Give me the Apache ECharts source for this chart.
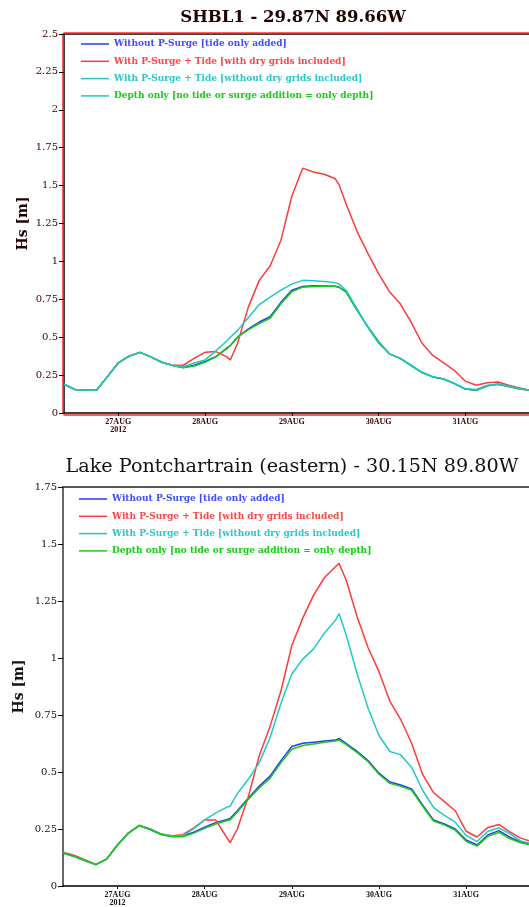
<!DOCTYPE html>
<html>
<head>
<meta charset="utf-8">
<script src="https://cdn.jsdelivr.net/npm/echarts@6/dist/echarts.min.js"></script>
<style>html,body{margin:0;padding:0;background:#fff;overflow:hidden;}#c{width:529px;height:907px;}</style>
</head>
<body>
<div id="c"></div>
<script>
// ---- data ----
const times = [
 '2012-08-26T09:00','2012-08-26T12:00','2012-08-26T15:00','2012-08-26T18:00','2012-08-26T21:00',
 '2012-08-27T00:00','2012-08-27T03:00','2012-08-27T06:00','2012-08-27T09:00','2012-08-27T12:00','2012-08-27T15:00','2012-08-27T18:00','2012-08-27T21:00',
 '2012-08-28T00:00','2012-08-28T03:00','2012-08-28T06:00','2012-08-28T07:00','2012-08-28T09:00','2012-08-28T12:00','2012-08-28T15:00','2012-08-28T18:00','2012-08-28T21:00',
 '2012-08-29T00:00','2012-08-29T03:00','2012-08-29T06:00','2012-08-29T09:00','2012-08-29T12:00','2012-08-29T13:00','2012-08-29T15:00','2012-08-29T18:00','2012-08-29T21:00',
 '2012-08-30T00:00','2012-08-30T03:00','2012-08-30T06:00','2012-08-30T09:00','2012-08-30T12:00','2012-08-30T15:00','2012-08-30T18:00','2012-08-30T21:00',
 '2012-08-31T00:00','2012-08-31T03:00','2012-08-31T06:00','2012-08-31T09:00','2012-08-31T12:00','2012-08-31T15:00','2012-08-31T18:00'
];
const xTickTimes = ['2012-08-27T00:00','2012-08-28T00:00','2012-08-29T00:00','2012-08-30T00:00','2012-08-31T00:00'];
const xTickLabels = ['27AUG\n2012','28AUG','29AUG','30AUG','31AUG'];

const seriesNames = [
 'Without P-Surge [tide only added]',
 'With P-Surge + Tide [with dry grids included]',
 'With P-Surge + Tide [without dry grids included]',
 'Depth only [no tide or surge addition = only depth]'
];

// SHBL1
const topBlue  = [0.19,0.155,0.15,0.15,0.24,0.33,0.375,0.40,0.37,0.335,0.314,0.30,0.315,0.34,0.372,0.425,0.445,0.50,0.555,0.60,0.635,0.73,0.81,0.835,0.84,0.838,0.836,0.83,0.80,0.68,0.57,0.47,0.39,0.36,0.312,0.267,0.238,0.224,0.194,0.158,0.15,0.18,0.19,0.175,0.158,0.15];
const topRed   = [0.19,0.155,0.15,0.15,0.24,0.33,0.375,0.40,0.37,0.335,0.315,0.315,0.36,0.40,0.405,0.37,0.35,0.46,0.70,0.875,0.97,1.14,1.43,1.615,1.59,1.575,1.545,1.51,1.38,1.20,1.055,0.92,0.80,0.72,0.60,0.46,0.38,0.33,0.28,0.21,0.183,0.20,0.205,0.183,0.165,0.15];
const topCyan  = [0.19,0.155,0.15,0.15,0.24,0.33,0.375,0.40,0.37,0.335,0.315,0.305,0.33,0.35,0.41,0.475,0.50,0.545,0.63,0.715,0.765,0.81,0.85,0.875,0.872,0.868,0.86,0.852,0.81,0.69,0.565,0.46,0.39,0.36,0.315,0.27,0.24,0.225,0.195,0.16,0.155,0.182,0.192,0.178,0.16,0.15];
const topGreen = [0.19,0.155,0.15,0.15,0.24,0.33,0.375,0.40,0.37,0.335,0.313,0.298,0.31,0.335,0.37,0.43,0.445,0.50,0.55,0.59,0.625,0.72,0.80,0.83,0.835,0.836,0.836,0.83,0.797,0.68,0.57,0.47,0.39,0.36,0.312,0.267,0.238,0.224,0.194,0.158,0.15,0.18,0.19,0.175,0.158,0.15];

// Lake Pontchartrain (eastern)
const botBlue  = [0.145,0.13,0.112,0.094,0.118,0.18,0.232,0.265,0.248,0.227,0.218,0.219,0.236,0.258,0.278,0.291,0.296,0.33,0.385,0.437,0.482,0.55,0.612,0.626,0.631,0.636,0.64,0.647,0.625,0.59,0.55,0.495,0.456,0.443,0.426,0.356,0.29,0.272,0.25,0.202,0.18,0.224,0.243,0.214,0.193,0.182];
const botRed   = [0.148,0.135,0.115,0.094,0.118,0.18,0.232,0.266,0.25,0.228,0.22,0.225,0.255,0.29,0.29,0.215,0.19,0.25,0.39,0.57,0.70,0.855,1.055,1.175,1.276,1.353,1.40,1.415,1.34,1.18,1.045,0.94,0.81,0.73,0.625,0.49,0.41,0.37,0.33,0.24,0.215,0.257,0.27,0.237,0.21,0.195];
const botCyan  = [0.145,0.13,0.112,0.094,0.118,0.18,0.232,0.265,0.248,0.228,0.219,0.22,0.252,0.29,0.32,0.345,0.35,0.405,0.468,0.54,0.65,0.80,0.93,0.995,1.04,1.11,1.165,1.195,1.10,0.93,0.78,0.66,0.59,0.575,0.52,0.42,0.345,0.31,0.28,0.222,0.195,0.24,0.255,0.23,0.198,0.185];
const botGreen = [0.145,0.13,0.112,0.094,0.118,0.18,0.232,0.265,0.248,0.226,0.216,0.216,0.232,0.253,0.272,0.286,0.29,0.325,0.38,0.43,0.472,0.54,0.60,0.616,0.623,0.63,0.636,0.64,0.62,0.585,0.545,0.49,0.45,0.437,0.42,0.35,0.285,0.268,0.245,0.196,0.175,0.218,0.235,0.208,0.19,0.18];

// ---- build chart ----
// x values are hours since the start of the plotted window (26 Aug 09:00 UTC)
const ts = s => new Date(s + ':00Z').getTime();
const T0 = ts(times[0]);
const hrs = s => (ts(s) - T0) / 3600000;
const hx = times.map(hrs);
const tickH = xTickTimes.map(hrs);
const pairs = arr => arr.map((v, i) => [hx[i], v]);
const fmtX = v => { const i = tickH.findIndex(h => Math.abs(h - v) < 1e-6); return i >= 0 ? xTickLabels[i] : ''; };

const C = {blue:'#2a3af0', red:'#ff3a3a', cyan:'#22c8c8', green:'#14cc14'};
const LC = {blue:'#3d4dff', red:'#ff4444', cyan:'#2ac8c8', green:'#10d010'};
const SERIF = 'DejaVu Serif';
const AXRED = '#ff2a2a';
const redShadowX = {textShadowColor:'rgba(255,30,30,0.85)', textShadowOffsetX:-1, textShadowBlur:0};

function xAxisCfg(gi, maxH, red) {
  return {
    type:'value', gridIndex:gi, min:0, max:maxH, position:'bottom',
    axisLine:{show:true, onZero:false, lineStyle:{color:'#000', width:1.5}},
    axisTick:{show:true, customValues:tickH, length:3, lineStyle:{color:'#000', width:1}},
    axisLabel:Object.assign({customValues:tickH, formatter:fmtX, margin:5, fontFamily:'Liberation Serif',
      fontWeight:'bold', fontSize:8, lineHeight:8, color:red ? '#3a0000' : '#111'}, red ? redShadowX : {}),
    splitLine:{show:false}
  };
}
// plain axis lines used only as frame strokes (top border, red offset strokes)
function frameX(gi, pos, color, offset) {
  return {type:'value', gridIndex:gi, position:pos, offset:offset, min:0, max:1,
    axisLine:{show:true, onZero:false, lineStyle:{color:color, width:1.5}},
    axisTick:{show:false}, axisLabel:{show:false}, splitLine:{show:false}};
}
function frameY(gi, color, offset) {
  return {type:'value', gridIndex:gi, position:'left', offset:offset, min:0, max:1,
    axisLine:{show:true, onZero:false, lineStyle:{color:color, width:1.5}},
    axisTick:{show:false}, axisLabel:{show:false}, splitLine:{show:false}};
}
function yAxisCfg(gi, max, red, gap) {
  return {
    type:'value', gridIndex:gi, min:0, max:max, interval:0.25, position:'left',
    axisLine:{show:true, onZero:false, lineStyle:{color:red ? '#000' : '#333', width:1.5}},
    axisTick:{show:true, length:5, lineStyle:{color:'#000', width:1}},
    axisLabel:Object.assign({margin:6, fontFamily:SERIF, fontSize:10, color:red ? '#3a0000' : '#111'}, red ? redShadowX : {}),
    splitLine:{show:false},
    name:'Hs [m]', nameLocation:'middle', nameGap:gap, nameMoveOverlap:false,
    nameTextStyle:{fontFamily:SERIF, fontWeight:'bold', fontSize:14, color:red ? '#200' : '#111'}
  };
}
function legendCfg(left, top, fourthIcon) {
  const cols = [LC.blue, LC.red, LC.cyan, LC.green];
  const icons = [C.blue, C.red, C.cyan, fourthIcon];
  return {
    orient:'vertical', left:left, top:top, padding:0, itemGap:5.3, itemWidth:28, itemHeight:1.5,
    icon:'rect', selectedMode:false,
    textStyle:{fontFamily:SERIF, fontWeight:'bold', fontSize:9, lineHeight:12},
    data:seriesNames.map((n, i) => ({name:n, itemStyle:{color:icons[i]}, textStyle:{color:cols[i]}}))
  };
}
function line(name, data, color, xi, yi) {
  return {type:'line', name:name, data:pairs(data), xAxisIndex:xi, yAxisIndex:yi,
    symbol:'none', showSymbol:false, clip:true, color:color,
    lineStyle:{color:color, width:1.5}, itemStyle:{color:color}};
}

const option = {
  animation:false,
  backgroundColor:'#fff',
  title:[
    {text:'SHBL1 - 29.87N 89.66W', left:293, top:9, textAlign:'center', padding:0,
     textStyle:Object.assign({fontFamily:SERIF, fontWeight:'bold', fontSize:16.5, color:'#200'}, redShadowX)},
    {text:'Lake Pontchartrain (eastern) - 30.15N 89.80W', left:292, top:458, textAlign:'center', padding:0,
     textStyle:{fontFamily:SERIF, fontWeight:'normal', fontSize:19.2, color:'#111'}}
  ],
  legend:[legendCfg(81, 38, C.cyan), legendCfg(79, 493, C.green)],
  grid:[
    {left:64, top:34, right:-3, height:379},
    {left:63, top:487, right:-3, height:401}
  ],
  xAxis:[
    xAxisCfg(0, 128.6, true),
    xAxisCfg(1, 128.3, false),
    frameX(0, 'top', '#000', 0),
    frameX(1, 'top', '#222', 0),
    frameX(0, 'top', AXRED, 1.5),
    frameX(0, 'bottom', AXRED, 1.5)
  ],
  yAxis:[yAxisCfg(0, 2.5, true, 33.5), yAxisCfg(1, 1.75, false, 37), frameY(0, AXRED, 1.5)],
  series:[
    line(seriesNames[0], topBlue, C.blue, 0, 0),
    line(seriesNames[1], topRed, C.red, 0, 0),
    line(seriesNames[3], topGreen, C.green, 0, 0),
    line(seriesNames[2], topCyan, C.cyan, 0, 0),
    line(seriesNames[0], botBlue, C.blue, 1, 1),
    line(seriesNames[1], botRed, C.red, 1, 1),
    line(seriesNames[2], botCyan, C.cyan, 1, 1),
    line(seriesNames[3], botGreen, C.green, 1, 1)
  ]
};
const chart = echarts.init(document.getElementById('c'), null, {renderer:'canvas'});
chart.setOption(option);
</script>
</body>
</html>
